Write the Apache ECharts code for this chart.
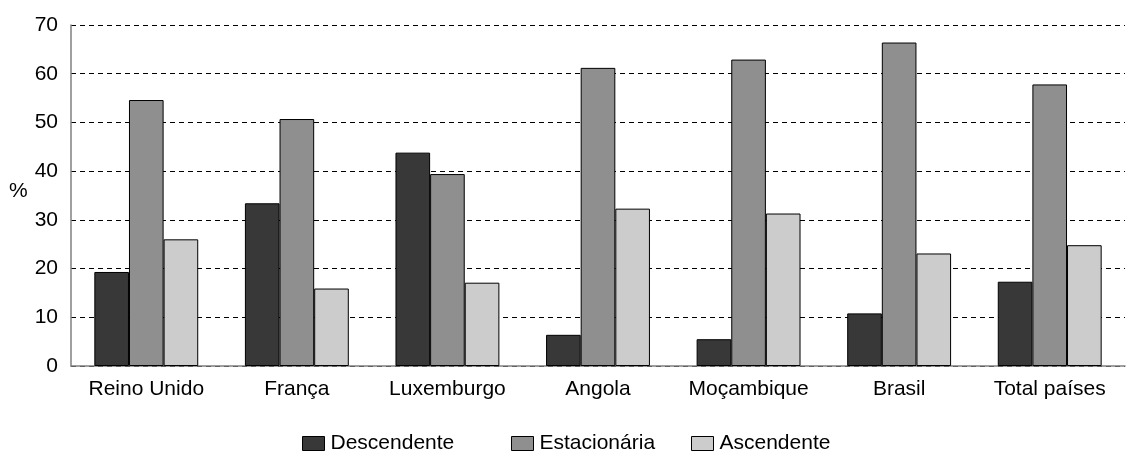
<!DOCTYPE html>
<html>
<head>
<meta charset="utf-8">
<script src="https://cdn.jsdelivr.net/npm/echarts@6/dist/echarts.min.js"></script>
<style>html,body{margin:0;padding:0;background:#fff}#c{width:1131px;height:452px}</style>
</head>
<body>
<div id="c"></div>
<script>
const categories = ['Reino Unido', 'França', 'Luxemburgo', 'Angola', 'Moçambique', 'Brasil', 'Total países'];
const descendente = [19.3, 33.4, 43.8, 6.4, 5.5, 10.8, 17.3];
const estacionaria = [54.6, 50.7, 39.4, 61.2, 62.9, 66.4, 57.8];
const ascendente = [26.0, 15.9, 17.1, 32.3, 31.3, 23.1, 24.8];
const seriesNames = ['Descendente', 'Estacionária', 'Ascendente'];
const yTicks = [0, 10, 20, 30, 40, 50, 60, 70];

const font = 'Liberation Sans, Arial, sans-serif';
const fs = 21;
const colors = ['#383838', '#8f8f8f', '#cccccc'];
const legendLefts = [302, 511, 691];
const chart = echarts.init(document.getElementById('c'), null, {renderer: 'canvas'});
const mk = (name, data, i) => ({
  name, type: 'bar', data,
  barGap: 0, barCategoryGap: '31%',
  itemStyle: {color: colors[i], borderColor: '#000', borderWidth: 1},
  animation: false
});
const legends = seriesNames.map((n, i) => ({
  left: legendLefts[i], top: 433, padding: 0,
  itemWidth: 22, itemHeight: 14, itemGap: 0,
  icon: 'rect',
  itemStyle: {borderColor: '#000', borderWidth: 1},
  textStyle: {fontFamily: font, fontSize: fs, color: '#000', padding: [0, 0, 0, 1]},
  data: [n]
}));
chart.setOption({
  animation: false,
  textStyle: {fontFamily: font},
  grid: {left: 71, right: 6, top: 25, bottom: 86, containLabel: false},
  legend: legends,
  xAxis: {
    type: 'category', data: categories,
    axisLine: {lineStyle: {color: '#808080', width: 1.5}},
    axisTick: {show: false},
    axisLabel: {interval: 0, hideOverlap: false, fontFamily: font, fontSize: fs, color: '#000', margin: 13}
  },
  yAxis: {
    type: 'value', min: yTicks[0], max: yTicks[yTicks.length - 1], interval: 10,
    axisLine: {show: true, lineStyle: {color: '#808080', width: 1.5}},
    axisTick: {show: false},
    axisLabel: {fontFamily: font, fontSize: fs, color: '#000', margin: 13},
    splitLine: {lineStyle: {color: '#000', type: [5, 4], width: 1}}
  },
  graphic: [{type: 'text', left: 9, top: 181, style: {text: '%', fontFamily: font, fontSize: fs, fill: '#000'}}],
  series: [mk(seriesNames[0], descendente, 0), mk(seriesNames[1], estacionaria, 1), mk(seriesNames[2], ascendente, 2)]
});
</script>
</body>
</html>
